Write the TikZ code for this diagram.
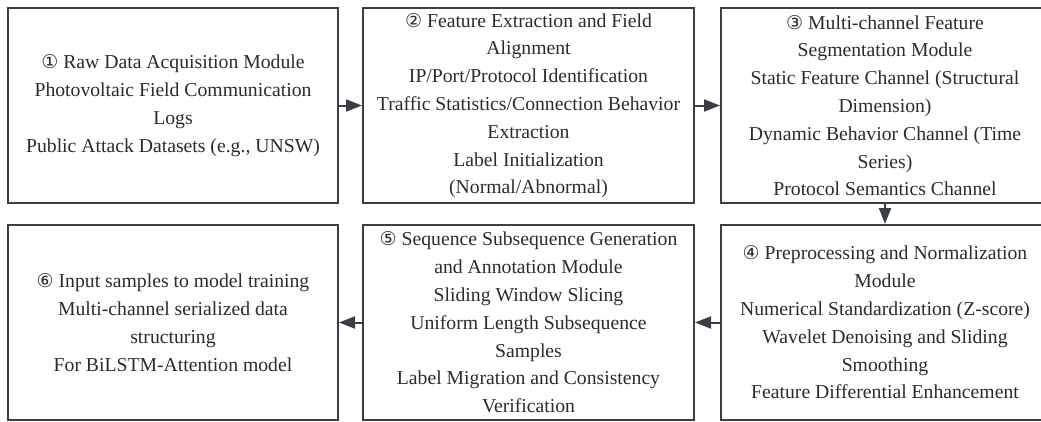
\documentclass[tikz,border=0pt]{standalone}
\usepackage{fontspec}
\setmainfont{Liberation Serif}
\newfontfamily\circfont{DejaVu Sans}
\usetikzlibrary{arrows.meta}
\definecolor{boxline}{HTML}{3A3F45}
\definecolor{boxtext}{HTML}{2B2B2B}
\newcommand{\stepno}[1]{{\circfont\fontsize{19}{27.8}\selectfont #1}}

\begin{document}
\begin{tikzpicture}[x=1pt,y=-1pt,
    module/.style={draw=boxline, line width=2pt, minimum height=195pt,
        inner sep=0pt, align=center, text=boxtext,
        font=\fontsize{19.7}{27.8}\selectfont},
    flow/.style={draw=boxline, line width=2pt,
        -{Triangle[length=16pt,width=12pt]}}]

    \useasboundingbox (0,0) rectangle (1041,421);

    % top row
    \node[module, minimum width=330pt] (raw) at (173,105.5)
        {\stepno{①} Raw Data Acquisition Module\\
         Photovoltaic Field Communication\\ Logs\\
         Public Attack Datasets (e.g., UNSW)};
    \node[module, minimum width=331pt] (feat) at (528.5,105.5)
        {\stepno{②} Feature Extraction and Field\\ Alignment\\
         IP/Port/Protocol Identification\\
         Traffic Statistics/Connection Behavior\\ Extraction\\
         Label Initialization\\ (Normal/Abnormal)};
    \node[module, minimum width=328pt] (seg) at (885,105.5)
        {\stepno{③} Multi-channel Feature\\ Segmentation Module\\
         Static Feature Channel (Structural\\ Dimension)\\
         Dynamic Behavior Channel (Time\\ Series)\\
         Protocol Semantics Channel};

    % bottom row
    \node[module, minimum width=328pt] (prep) at (885,322.5)
        {\stepno{④} Preprocessing and Normalization\\ Module\\
         Numerical Standardization (Z-score)\\
         Wavelet Denoising and Sliding\\ Smoothing\\
         Feature Differential Enhancement};
    \node[module, minimum width=331pt] (seq) at (528.5,322.5)
        {\stepno{⑤} Sequence Subsequence Generation\\
         and Annotation Module\\
         Sliding Window Slicing\\
         Uniform Length Subsequence\\ Samples\\
         Label Migration and Consistency\\ Verification};
    \node[module, minimum width=330pt] (input) at (173,322.5)
        {\stepno{⑥} Input samples to model training\\
         Multi-channel serialized data\\ structuring\\
         For BiLSTM-Attention model};

    \draw[flow] (raw) -- (feat);
    \draw[flow] (feat) -- (seg);
    \draw[flow] (seg.south) -- (prep.north);
    \draw[flow] (prep) -- (seq);
    \draw[flow] (seq) -- (input);

\end{tikzpicture}
\end{document}
